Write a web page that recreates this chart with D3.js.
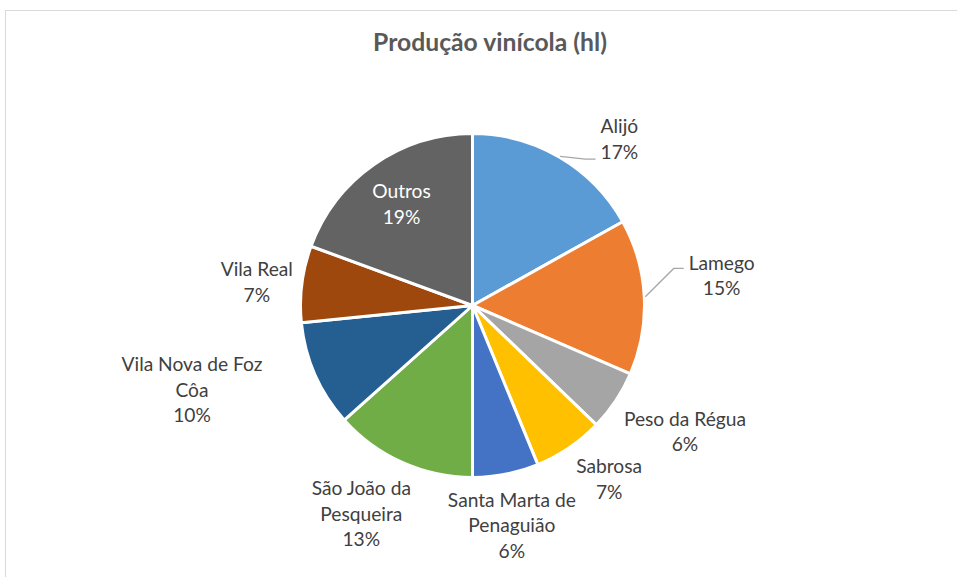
<!DOCTYPE html>
<html>
<head>
<meta charset="utf-8">
<script src="https://cdn.jsdelivr.net/npm/d3@7"></script>
<style>
  body { margin: 0; background: #fff; }
  text { font-family: Lato, "Open Sans", sans-serif; }
</style>
</head>
<body>
<div id="chart"></div>
<script>
// data (share of total, %)
const categories = ["Alijó", "Lamego", "Peso da Régua", "Sabrosa", "Santa Marta de Penaguião",
    "São João da Pesqueira", "Vila Nova de Foz Côa", "Vila Real", "Outros"];
const values = [16.9, 14.6, 5.7, 6.6, 6.2, 13.4, 10.0, 7.2, 19.4];
const colors = ["#5B9BD5", "#ED7D31", "#A5A5A5", "#FFC000", "#4472C4",
    "#70AD47", "#255E91", "#9E480E", "#636363"];

// label placement (distance from centre, turn in degrees vs. slice middle)
const labelDist = [222, 251, 247, 221, 223, 236, 293, 217, 124];
const labelTurn = [11, -4, -3, -4, 1, 4, 7, -1, 0];
const hasLeader = [true, true, false, false, false, false, false, false, false];
const leaderDy = [20, -7, 0, 0, 0, 0, 0, 0, 0];

var width = 957, height = 577;
var cx = 472.5, cy = 305.5, radius = 172;
var lineH = 25.5;

var svg = d3.select("#chart")
    .append("svg")
    .attr("width", width)
    .attr("height", height);

svg.append("rect")
    .attr("x", 5.5)
    .attr("y", 10.5)
    .attr("width", width + 10)
    .attr("height", height + 10)
    .attr("fill", "#fff")
    .attr("stroke", "#d9d9d9");

// title, sized to match the original width
var title = svg.append("text")
    .attr("x", 490)
    .attr("y", 51)
    .attr("text-anchor", "middle")
    .attr("font-weight", "bold")
    .attr("font-size", 24)
    .attr("fill", "#595959")
    .text("Produção vinícola (hl)");
var tw = title.node().getComputedTextLength();
title.attr("font-size", 24 * 234 / tw);

// label font size: fit "Vila Nova de Foz" to ~141px
var probe = svg.append("text").attr("font-size", 20).text("Vila Nova de Foz");
var labelSize = 20 * 141 / probe.node().getComputedTextLength();
probe.remove();

const total = d3.sum(values);
const data = categories.map((c, i) => ({name: c, value: values[i], i: i}));

var pie = d3.pie().value(d => d.value).sort(null);
var arc = d3.arc().innerRadius(0).outerRadius(radius);
var arcs = pie(data);

var g = svg.append("g").attr("transform", "translate(" + cx + "," + cy + ")");

g.selectAll("path.slice")
    .data(arcs)
    .enter()
    .append("path")
    .attr("class", "slice")
    .attr("d", arc)
    .attr("fill", d => colors[d.data.i])
    .attr("stroke", "#fff")
    .attr("stroke-width", 3)
    .attr("stroke-linejoin", "round");

// simple word wrap
function wrapLines(str, maxW) {
    var words = str.split(" "), lines = [], cur = "";
    var t = svg.append("text").attr("font-size", labelSize);
    words.forEach(w => {
        var test = cur ? cur + " " + w : w;
        t.text(test);
        if (t.node().getComputedTextLength() > maxW && cur) {
            lines.push(cur);
            cur = w;
        } else {
            cur = test;
        }
    });
    lines.push(cur);
    t.remove();
    return lines;
}

arcs.forEach(a => {
    var i = a.data.i;
    var mid = (a.startAngle + a.endAngle) / 2;
    var ang = mid + labelTurn[i] * Math.PI / 180;
    var lx = labelDist[i] * Math.sin(ang);
    var ly = -labelDist[i] * Math.cos(ang);

    var lines = wrapLines(a.data.name, 150);
    lines.push(Math.round(a.data.value / total * 100) + "%");

    var y0 = ly + 7 - (lines.length - 1) * lineH / 2;
    var txt = g.append("text")
        .attr("text-anchor", "middle")
        .attr("font-size", labelSize)
        .attr("fill", i === 8 ? "#ffffff" : "#404040");
    lines.forEach((l, k) => {
        txt.append("tspan")
            .attr("x", lx)
            .attr("y", y0 + k * lineH)
            .text(l);
    });

    if (hasLeader[i]) {
        var boxW = d3.max(txt.selectAll("tspan").nodes(), n => n.getComputedTextLength());
        var ex = lx - boxW / 2 - 5;
        var ey = ly + leaderDy[i];
        var sx = (radius + 1) * Math.sin(mid), sy = -(radius + 1) * Math.cos(mid);
        g.append("path")
            .attr("d", d3.line()([[sx, sy], [ex - 10, ey], [ex, ey]]))
            .attr("fill", "none")
            .attr("stroke", "#a6a6a6")
            .attr("stroke-width", 1.3);
    }
});
</script>
</body>
</html>
